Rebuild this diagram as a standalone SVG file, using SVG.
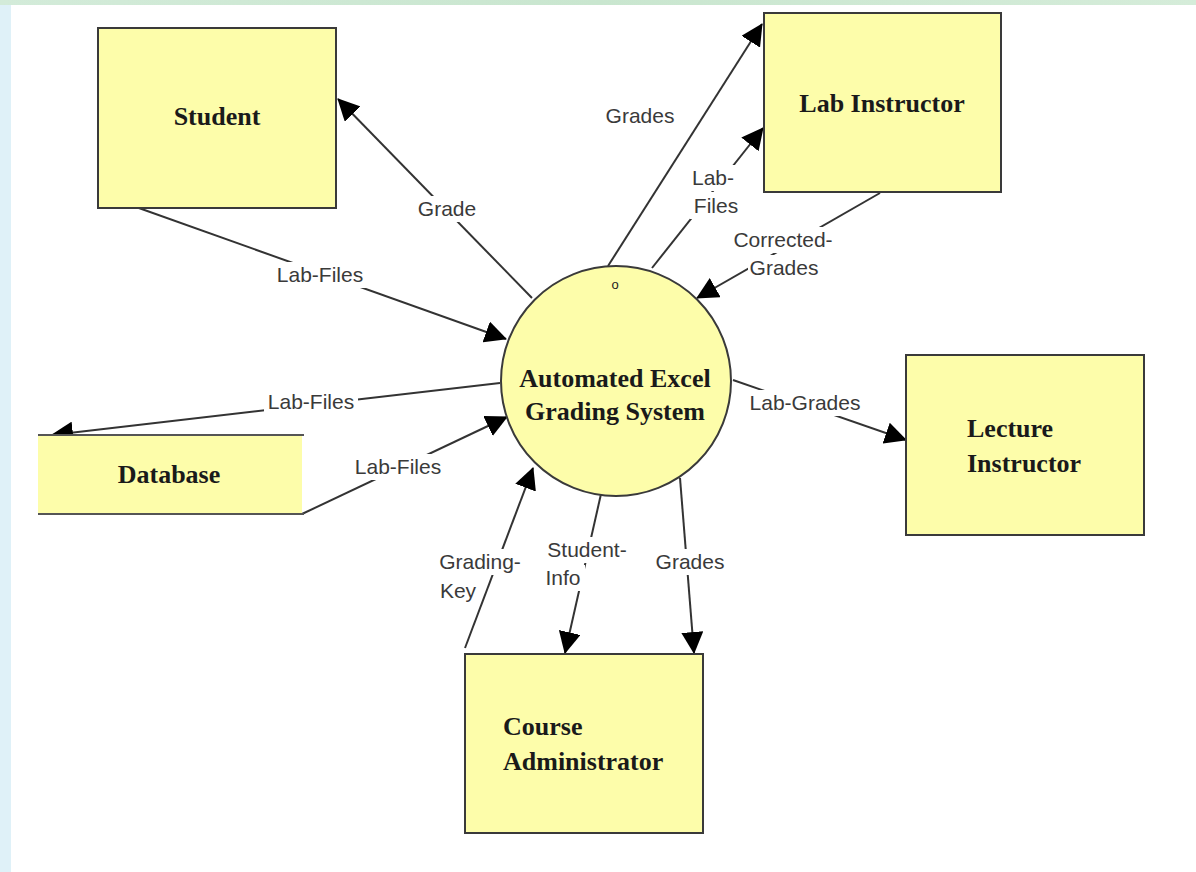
<svg xmlns="http://www.w3.org/2000/svg" width="1196" height="872" viewBox="0 0 1196 872">
<defs>
<linearGradient id="topbar" x1="0" y1="0" x2="1" y2="0">
<stop offset="0" stop-color="#d3ebd9"/><stop offset="0.5" stop-color="#c9e6cf"/><stop offset="1" stop-color="#d5ecd9"/>
</linearGradient>
<marker id="arr" viewBox="0 0 22 22" refX="21" refY="11" markerWidth="22" markerHeight="22" markerUnits="userSpaceOnUse" orient="auto">
<path d="M0,0 L22,11 L0,22 z" fill="#000"/>
</marker>
<style>
.box{fill:#fdfdaa;stroke:#3a3a3a;stroke-width:2}
.node{font-family:"Liberation Serif","Times New Roman",serif;font-weight:bold;font-size:26px;fill:#1a1a1a}
.flow{fill:none;stroke:#333;stroke-width:2;marker-end:url(#arr)}
.gap{fill:#fff}
.lbl{font-family:"Liberation Sans",Arial,sans-serif;font-size:21px;fill:#3a3a3a;text-anchor:middle}
</style>
</defs>
<rect x="0" y="0" width="1196" height="872" fill="#ffffff"/>
<rect x="0" y="0" width="11" height="872" fill="#dff1f8"/>
<rect x="0" y="0" width="1196" height="5" fill="url(#topbar)"/>

<g id="connectors">
<line class="flow" x1="136" y1="207" x2="506" y2="339"/>
<line class="flow" x1="532" y1="298" x2="338" y2="99"/>
<line class="flow" x1="608" y1="266" x2="762" y2="24"/>
<line class="flow" x1="652" y1="268" x2="763" y2="128"/>
<line class="flow" x1="880" y1="193" x2="697" y2="298"/>
<line class="flow" x1="500" y1="383" x2="52" y2="435"/>
<line class="flow" x1="302" y1="514" x2="507" y2="417"/>
<line class="flow" x1="733" y1="380" x2="906" y2="440"/>
<line class="flow" x1="465" y1="648" x2="533" y2="468"/>
<line class="flow" x1="601" y1="494" x2="565" y2="653"/>
<line class="flow" x1="680" y1="478" x2="694" y2="653"/>
<rect class="gap" x="273" y="262" width="94" height="26"/>
<rect class="gap" x="414" y="196" width="66" height="26"/>
<rect class="gap" x="690" y="165" width="48" height="26"/>
<rect class="gap" x="690" y="192" width="54" height="27"/>
<rect class="gap" x="730" y="227" width="106" height="26"/>
<rect class="gap" x="748" y="255" width="72" height="26"/>
<rect class="gap" x="264" y="389" width="94" height="26"/>
<rect class="gap" x="351" y="454" width="94" height="26"/>
<rect class="gap" x="748" y="390" width="114" height="26"/>
<rect class="gap" x="435" y="549" width="90" height="26"/>
<rect class="gap" x="437" y="578" width="42" height="26"/>
<rect class="gap" x="545" y="537" width="84" height="26"/>
<rect class="gap" x="541" y="565" width="44" height="26"/>
<rect class="gap" x="654" y="549" width="72" height="26"/>
<text class="lbl" x="320" y="282">Lab-Files</text>
<text class="lbl" x="447" y="216">Grade</text>
<text class="lbl" x="640" y="123">Grades</text>
<text class="lbl" x="713" y="185">Lab-</text>
<text class="lbl" x="716" y="213">Files</text>
<text class="lbl" x="783" y="247">Corrected-</text>
<text class="lbl" x="784" y="275">Grades</text>
<text class="lbl" x="311" y="409">Lab-Files</text>
<text class="lbl" x="398" y="474">Lab-Files</text>
<text class="lbl" x="805" y="410">Lab-Grades</text>
<text class="lbl" x="480" y="569">Grading-</text>
<text class="lbl" x="458" y="598">Key</text>
<text class="lbl" x="587" y="557">Student-</text>
<text class="lbl" x="563" y="585">Info</text>
<text class="lbl" x="690" y="569">Grades</text>
</g>

<g id="student">
<rect class="box" x="98" y="28" width="238" height="180"/>
<text class="node" x="217" y="125" text-anchor="middle">Student</text>
</g>
<g id="lab-instructor">
<rect class="box" x="764" y="13" width="237" height="179"/>
<text class="node" x="882" y="112" text-anchor="middle">Lab Instructor</text>
</g>
<g id="lecture-instructor">
<rect class="box" x="906" y="355" width="238" height="180"/>
<text class="node" x="967" y="437">Lecture</text>
<text class="node" x="967" y="472">Instructor</text>
</g>
<g id="course-administrator">
<rect class="box" x="465" y="654" width="238" height="179"/>
<text class="node" x="503" y="735">Course</text>
<text class="node" x="503" y="770">Administrator</text>
</g>
<g id="database">
<rect x="38" y="435" width="264" height="79" fill="#fdfdaa"/>
<line x1="38" y1="435" x2="304" y2="435" stroke="#555" stroke-width="2"/>
<line x1="38" y1="514" x2="304" y2="514" stroke="#555" stroke-width="2"/>
<text class="node" x="169" y="483" text-anchor="middle">Database</text>
</g>
<g id="grading-system">
<circle cx="616" cy="381" r="115" fill="#fdfdaa" stroke="#3a3a3a" stroke-width="2"/>
<text x="615" y="289" font-family="Liberation Sans, Arial, sans-serif" font-size="13" text-anchor="middle" fill="#222">o</text>
<text class="node" x="615" y="387" text-anchor="middle">Automated Excel</text>
<text class="node" x="615" y="420" text-anchor="middle">Grading System</text>
</g>
</svg>
